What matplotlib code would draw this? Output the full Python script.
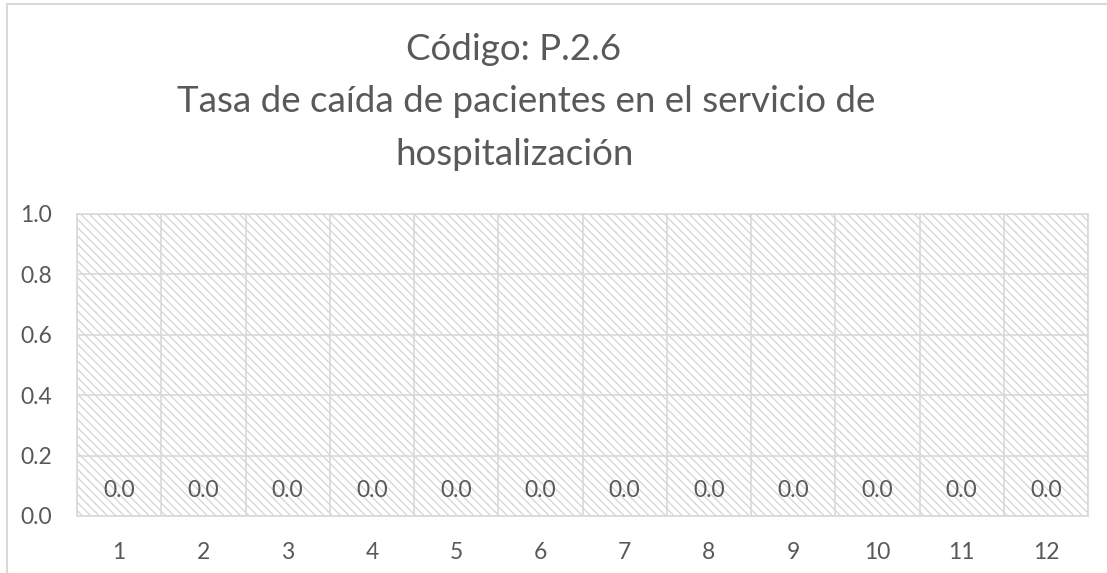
import matplotlib
matplotlib.use("Agg")
import matplotlib.pyplot as plt
from matplotlib.patches import Rectangle

# data
months = ["1", "2", "3", "4", "5", "6", "7", "8", "9", "10", "11", "12"]
rates = [0.0, 0.0, 0.0, 0.0, 0.0, 0.0, 0.0, 0.0, 0.0, 0.0, 0.0, 0.0]
y_ticks = [0.0, 0.2, 0.4, 0.6, 0.8, 1.0]
title_lines = ["Código: P.2.6",
               "Tasa de caída de pacientes en el servicio de",
               "hospitalización"]

txt = "#595959"
grid = "#d9d9d9"

plt.rcParams['font.family'] = ['Lato', 'DejaVu Sans']
plt.rcParams['hatch.color'] = "#d4d4d4"
plt.rcParams['hatch.linewidth'] = 0.9

f = plt.figure(figsize=(11.07, 5.73), dpi=100)
ax = f.add_axes([77 / 1107, 57 / 573, 1011 / 1107, 302 / 573])

# plot area fill: light diagonal hatch
ax.patch.set_facecolor("white")
ax.add_patch(Rectangle((0, 0), 1, 1, transform=ax.transAxes, facecolor="white",
                       edgecolor="#d4d4d4", hatch="\\\\\\\\", linewidth=0, zorder=0))

x = list(range(len(months)))
bars = ax.bar(x, rates, width=0.6, color="#a5a5a5", zorder=2)
ax.bar_label(bars, labels=["%.1f" % v for v in rates], padding=11,
             fontsize=16.5, color=txt)

ax.set_xlim(-0.5, len(months) - 0.5)
ax.set_ylim(0, 1.0)
ax.set_yticks(y_ticks)
ax.set_yticklabels(["%.1f" % v for v in y_ticks])
ax.set_xticks(x)
ax.set_xticklabels(months)

# grid: horizontal at ticks, vertical between categories
ax.set_xticks([i - 0.5 for i in range(len(months) + 1)], minor=True)
ax.grid(True, axis="y", which="major", color=grid, linewidth=1.2, zorder=1)
ax.grid(True, axis="x", which="minor", color=grid, linewidth=1.2, zorder=1)
ax.set_axisbelow(True)

for s in ax.spines.values():
    s.set_color(grid)
    s.set_linewidth(1.2)

ax.tick_params(axis="both", which="both", length=0, labelsize=16.5, labelcolor=txt)
ax.tick_params(axis="x", pad=19)
ax.tick_params(axis="y", pad=18)

# title, three lines
f.text(514 / 1107, 1 - 60 / 573, title_lines[0], ha="center", va="baseline",
       fontsize=26.5, color=txt)
f.text(526 / 1107, 1 - 112 / 573, title_lines[1], ha="center", va="baseline",
       fontsize=26.5, color=txt)
f.text(515 / 1107, 1 - 165 / 573, title_lines[2], ha="center", va="baseline",
       fontsize=26.5, color=txt)

# chart border (only top and left visible)
f.add_artist(Rectangle((6.5 / 1107, -0.1), 1.2, 1.1 - 4.5 / 573, transform=f.transFigure,
                       fill=False, edgecolor="#d9d9d9", linewidth=1.5))

f.savefig("out.png", dpi=100)
